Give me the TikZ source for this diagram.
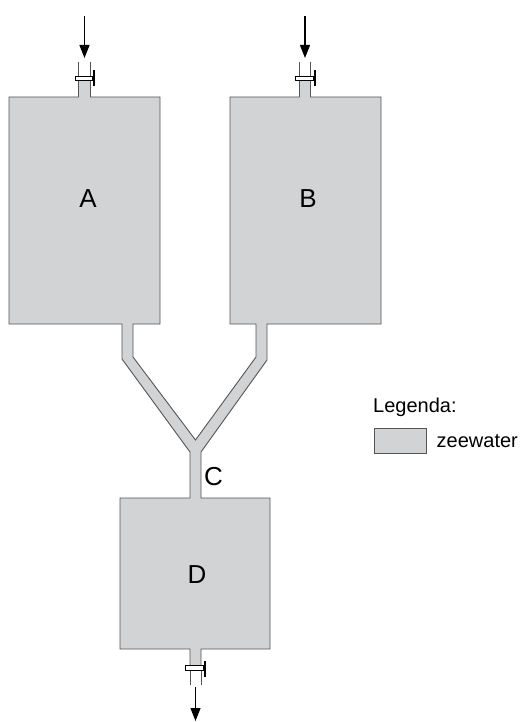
\documentclass[tikz,border=0pt]{standalone}
\usepackage{fontspec}
\setmainfont{Liberation Sans}
\usetikzlibrary{arrows.meta}
\definecolor{water}{HTML}{D1D3D4}
\definecolor{wall}{HTML}{555555}
\tikzset{
  vessel/.style={fill=water,draw=wall,line width=0.9pt,line join=miter},
  pipewall/.style={draw=wall,line width=0.9pt},
  valvebar/.style={fill=white,draw=black,line width=0.8pt},
  handle/.style={draw=black,line width=2pt},
  flow/.style={draw=black,line width=1.3pt,-{Triangle[length=13pt,width=10pt]}},
  tanklabel/.style={font=\fontsize{26}{28}\selectfont,inner sep=0pt},
  legtext/.style={font=\fontsize{20}{22}\selectfont,inner sep=0pt,anchor=west}
}
\begin{document}
\begin{tikzpicture}[x=1pt,y=-1pt]
\useasboundingbox (0,0) rectangle (523,722);
% whole body of water: tanks A, B, D and connecting pipes
\path[vessel] (9,97) -- (78.5,97) -- (78.5,79) -- (90.5,79) -- (90.5,97) -- (160,97)
  -- (160,324) -- (133,324) -- (133,357) -- (195.5,440) -- (256,357) -- (256,324)
  -- (230,324) -- (230,97) -- (299.5,97) -- (299.5,79) -- (310.5,79) -- (310.5,97)
  -- (381,97) -- (381,324) -- (267,324) -- (267,360) -- (201,452) -- (201,498)
  -- (270,498) -- (270,649) -- (201,649) -- (201,667) -- (190,667) -- (190,649)
  -- (120,649) -- (120,498) -- (190,498) -- (190,452) -- (122,359) -- (122,324)
  -- (9,324) -- cycle;
% inlet A
\draw[pipewall] (78.5,62) -- (78.5,77) (90.5,62) -- (90.5,77);
\draw[valvebar] (75,76) rectangle (92.7,80.7);
\draw[handle] (94,70) -- (94,86);
\coordinate (inA) at (84.5,16);
\coordinate (pipeA) at (84.5,58);
\draw[flow] (inA) -- (pipeA);
% inlet B
\draw[pipewall] (299.5,62) -- (299.5,77) (310.5,62) -- (310.5,77);
\draw[valvebar] (295.7,76) rectangle (313.3,80.7);
\draw[handle] (315,70) -- (315,86);
\coordinate (inB) at (305,16);
\coordinate (pipeB) at (305,58);
\draw[flow] (inB) -- (pipeB);
% outlet D
\draw[pipewall] (190,669) -- (190,685) (201,669) -- (201,685);
\draw[valvebar] (185.7,665.5) rectangle (203.3,670);
\draw[handle] (205,661) -- (205,677);
\coordinate (pipeD) at (195.5,687);
\coordinate (outD) at (195.5,721);
\draw[flow] (pipeD) -- (outD);
% labels
\node[tanklabel] (A) at (88,199) {A};
\node[tanklabel] (B) at (308,199) {B};
\node[tanklabel] (C) at (213.5,477) {C};
\node[tanklabel] (D) at (197,575) {D};
% legend
\node[legtext] (leg) at (373,407) {Legenda:};
\draw[vessel] (374,428) rectangle (426.7,453.3);
\node[legtext] (zw) at (436.5,441.5) {zeewater};
\end{tikzpicture}
\end{document}
